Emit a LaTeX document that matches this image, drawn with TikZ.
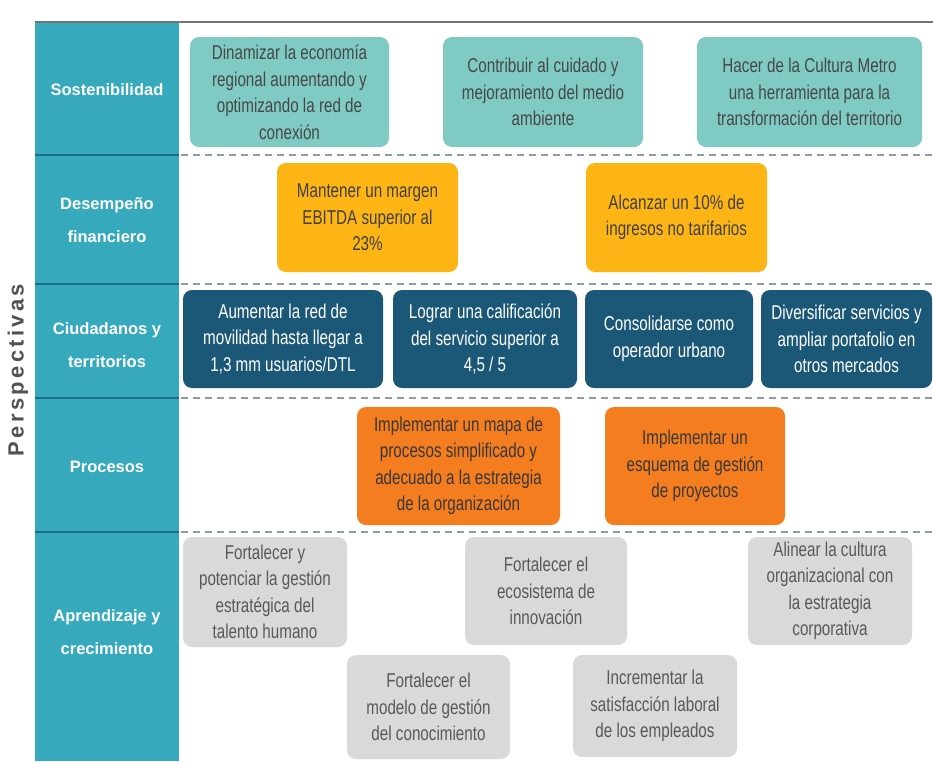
\documentclass[tikz,border=0pt]{standalone}
\usepackage{fontspec}
\setmainfont{Liberation Sans}
\newfontfamily\narrowfont[FakeStretch=0.76]{Liberation Sans}
\definecolor{colside}{HTML}{36A9BD}
\definecolor{colrule}{HTML}{1D6E86}
\definecolor{coldash}{HTML}{8E9BA8}
\definecolor{colsost}{HTML}{7FCBC4}
\definecolor{colfin}{HTML}{FDB515}
\definecolor{colciud}{HTML}{1B5878}
\definecolor{colproc}{HTML}{F47D20}
\definecolor{colaprend}{HTML}{D9D9D9}

\begin{document}
\begin{tikzpicture}[x=1pt, y=-1pt,
  goal/.style={rounded corners=9pt, align=center, inner sep=0pt, font=\narrowfont\fontsize{20}{26.5}\selectfont},
  persp/.style={align=center, text=white, font=\bfseries\fontsize{16.5}{33}\selectfont},
  sep/.style={coldash, line width=2.5pt, dash pattern=on 7pt off 5pt}]
\useasboundingbox (0,0) rectangle (933,761);
\fill[white] (0,0) rectangle (933,761);

\fill[colside] (35,22) rectangle (179,761);
\draw[line width=1.5pt, black!55] (35,22) -- (933,22);
\draw[line width=2pt, colrule] (35,155) -- (179,155);
\draw[line width=2pt, colrule] (35,284) -- (179,284);
\draw[line width=2pt, colrule] (35,398) -- (179,398);
\draw[line width=2pt, colrule] (35,532) -- (179,532);
\draw[sep] (181,155) -- (933,155);
\draw[sep] (181,284) -- (933,284);
\draw[sep] (181,398) -- (933,398);
\draw[sep] (181,532) -- (933,532);

\node[rotate=90, text=black!68, font=\bfseries\fontsize{22}{22}\selectfont] (titulo) at (18,370) {\addfontfeature{LetterSpace=15}Perspectivas};

\node[persp] (sost) at (107,90) {Sostenibilidad};
\node[persp] (desemp) at (107,220) {Desempeño\\financiero};
\node[persp] (ciud) at (107,345) {Ciudadanos y\\territorios};
\node[persp] (proc) at (107,467) {Procesos};
\node[persp] (aprend) at (107,632) {Aprendizaje y\\crecimiento};

\node[goal, fill=colsost, text=black!72, minimum width=199pt, minimum height=110pt] (s1) at (289.5,92) {Dinamizar la economía\\regional aumentando y\\optimizando la red de\\conexión};
\node[goal, fill=colsost, text=black!72, minimum width=200pt, minimum height=110pt] (s2) at (543,92) {Contribuir al cuidado y\\mejoramiento del medio\\ambiente};
\node[goal, fill=colsost, text=black!72, minimum width=225pt, minimum height=110pt] (s3) at (809.5,92) {Hacer de la Cultura Metro\\una herramienta para la\\transformación del territorio};

\node[goal, fill=colfin, text=black!75, minimum width=181pt, minimum height=109pt] (f1) at (367.5,217.5) {Mantener un margen\\EBITDA superior al\\23\%};
\node[goal, fill=colfin, text=black!75, minimum width=181pt, minimum height=109pt] (f2) at (676.5,217.5) {Alcanzar un 10\% de\\ingresos no tarifarios};

\node[goal, fill=colciud, text=white, minimum width=200pt, minimum height=98pt] (c1) at (283,339) {Aumentar la red de\\movilidad hasta llegar a\\1,3 mm usuarios/DTL};
\node[goal, fill=colciud, text=white, minimum width=184pt, minimum height=98pt] (c2) at (485,339) {Lograr una calificación\\del servicio superior a\\4,5 / 5};
\node[goal, fill=colciud, text=white, minimum width=168pt, minimum height=98pt] (c3) at (669,339) {Consolidarse como\\operador urbano};
\node[goal, fill=colciud, text=white, minimum width=171pt, minimum height=98pt] (c4) at (846.5,339) {Diversificar servicios y\\ampliar portafolio en\\otros mercados};

\node[goal, fill=colproc, text=black!78, minimum width=203pt, minimum height=118pt] (p1) at (458.5,466) {Implementar un mapa de\\procesos simplificado y\\adecuado a la estrategia\\de la organización};
\node[goal, fill=colproc, text=black!78, minimum width=180pt, minimum height=118pt] (p2) at (695,466) {Implementar un\\esquema de gestión\\de proyectos};

\node[goal, fill=colaprend, text=black!65, minimum width=164pt, minimum height=110pt] (a1) at (265,592) {Fortalecer y\\potenciar la gestión\\estratégica del\\talento humano};
\node[goal, fill=colaprend, text=black!65, minimum width=162pt, minimum height=108pt] (a2) at (546,591) {Fortalecer el\\ecosistema de\\innovación};
\node[goal, fill=colaprend, text=black!65, minimum width=164pt, minimum height=108pt] (a3) at (830,591) {Alinear la cultura\\organizacional con\\la estrategia\\corporativa};
\node[goal, fill=colaprend, text=black!65, minimum width=163pt, minimum height=104pt] (a4) at (428.5,707) {Fortalecer el\\modelo de gestión\\del conocimiento};
\node[goal, fill=colaprend, text=black!65, minimum width=164pt, minimum height=102pt] (a5) at (655,706) {Incrementar la\\satisfacción laboral\\de los empleados};
\end{tikzpicture}
\end{document}
